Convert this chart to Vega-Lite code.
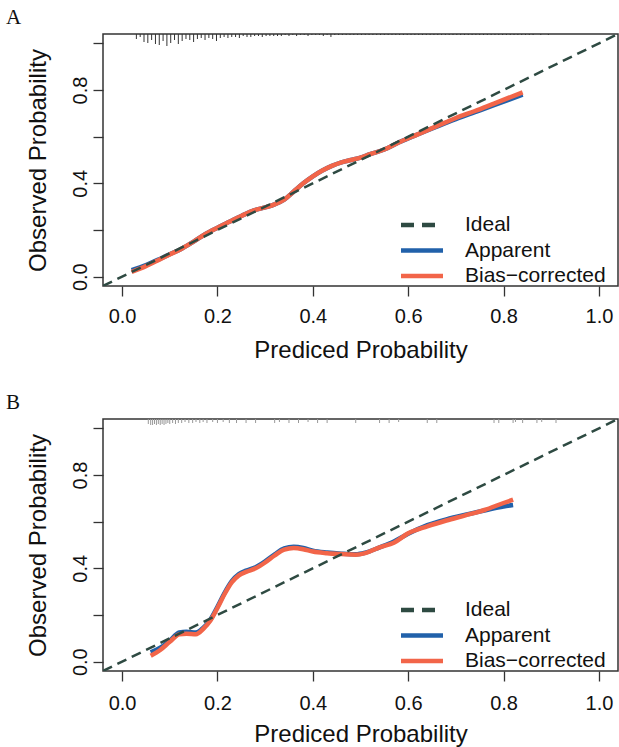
{
  "$schema": "https://vega.github.io/schema/vega-lite/v6.json",
  "padding": {"left": 5, "top": 5, "right": 0, "bottom": 0},
  "spacing": 27,
  "config": {
    "font": "Liberation Sans",
    "view": {"stroke": "#333", "strokeWidth": 1.5},
    "axis": {"grid": false, "domain": false, "tickColor": "#333", "tickWidth": 1.3, "tickSize": 10, "labelColor": "#111", "titleColor": "#111", "labelFont": "Liberation Sans", "titleFont": "Liberation Sans", "titleFontWeight": "normal", "labelFontSize": 20, "titleFontSize": 24},
    "title": {"font": "Liberation Serif", "fontSize": 21, "fontWeight": "normal", "color": "#111", "anchor": "start", "frame": "bounds"}
  },
  "datasets": {
    "ideal": [
      {"series": "Ideal", "p": -0.04, "obs": -0.04},
      {"series": "Ideal", "p": 1.04, "obs": 1.04}
    ],
    "curveA": [
      {"series": "Apparent", "p": 0.02, "obs": 0.028},
      {"series": "Apparent", "p": 0.05, "obs": 0.05},
      {"series": "Apparent", "p": 0.08, "obs": 0.077},
      {"series": "Apparent", "p": 0.10, "obs": 0.096},
      {"series": "Apparent", "p": 0.125, "obs": 0.12},
      {"series": "Apparent", "p": 0.15, "obs": 0.15},
      {"series": "Apparent", "p": 0.175, "obs": 0.183},
      {"series": "Apparent", "p": 0.20, "obs": 0.21},
      {"series": "Apparent", "p": 0.225, "obs": 0.235},
      {"series": "Apparent", "p": 0.25, "obs": 0.26},
      {"series": "Apparent", "p": 0.275, "obs": 0.283},
      {"series": "Apparent", "p": 0.30, "obs": 0.297},
      {"series": "Apparent", "p": 0.32, "obs": 0.31},
      {"series": "Apparent", "p": 0.34, "obs": 0.33},
      {"series": "Apparent", "p": 0.36, "obs": 0.365},
      {"series": "Apparent", "p": 0.38, "obs": 0.40},
      {"series": "Apparent", "p": 0.40, "obs": 0.43},
      {"series": "Apparent", "p": 0.42, "obs": 0.455},
      {"series": "Apparent", "p": 0.44, "obs": 0.475},
      {"series": "Apparent", "p": 0.46, "obs": 0.49},
      {"series": "Apparent", "p": 0.48, "obs": 0.50},
      {"series": "Apparent", "p": 0.50, "obs": 0.51},
      {"series": "Apparent", "p": 0.52, "obs": 0.525},
      {"series": "Apparent", "p": 0.55, "obs": 0.545},
      {"series": "Apparent", "p": 0.58, "obs": 0.575},
      {"series": "Apparent", "p": 0.62, "obs": 0.61},
      {"series": "Apparent", "p": 0.66, "obs": 0.643},
      {"series": "Apparent", "p": 0.70, "obs": 0.675},
      {"series": "Apparent", "p": 0.74, "obs": 0.705},
      {"series": "Apparent", "p": 0.78, "obs": 0.735},
      {"series": "Apparent", "p": 0.84, "obs": 0.78},
      {"series": "Bias−corrected", "p": 0.02, "obs": 0.02},
      {"series": "Bias−corrected", "p": 0.05, "obs": 0.045},
      {"series": "Bias−corrected", "p": 0.08, "obs": 0.075},
      {"series": "Bias−corrected", "p": 0.10, "obs": 0.095},
      {"series": "Bias−corrected", "p": 0.125, "obs": 0.12},
      {"series": "Bias−corrected", "p": 0.15, "obs": 0.15},
      {"series": "Bias−corrected", "p": 0.175, "obs": 0.183},
      {"series": "Bias−corrected", "p": 0.20, "obs": 0.21},
      {"series": "Bias−corrected", "p": 0.225, "obs": 0.235},
      {"series": "Bias−corrected", "p": 0.25, "obs": 0.26},
      {"series": "Bias−corrected", "p": 0.275, "obs": 0.283},
      {"series": "Bias−corrected", "p": 0.30, "obs": 0.297},
      {"series": "Bias−corrected", "p": 0.32, "obs": 0.31},
      {"series": "Bias−corrected", "p": 0.34, "obs": 0.33},
      {"series": "Bias−corrected", "p": 0.36, "obs": 0.365},
      {"series": "Bias−corrected", "p": 0.38, "obs": 0.40},
      {"series": "Bias−corrected", "p": 0.40, "obs": 0.43},
      {"series": "Bias−corrected", "p": 0.42, "obs": 0.455},
      {"series": "Bias−corrected", "p": 0.44, "obs": 0.475},
      {"series": "Bias−corrected", "p": 0.46, "obs": 0.49},
      {"series": "Bias−corrected", "p": 0.48, "obs": 0.50},
      {"series": "Bias−corrected", "p": 0.50, "obs": 0.51},
      {"series": "Bias−corrected", "p": 0.52, "obs": 0.525},
      {"series": "Bias−corrected", "p": 0.55, "obs": 0.545},
      {"series": "Bias−corrected", "p": 0.58, "obs": 0.575},
      {"series": "Bias−corrected", "p": 0.62, "obs": 0.61},
      {"series": "Bias−corrected", "p": 0.66, "obs": 0.645},
      {"series": "Bias−corrected", "p": 0.70, "obs": 0.68},
      {"series": "Bias−corrected", "p": 0.74, "obs": 0.71},
      {"series": "Bias−corrected", "p": 0.78, "obs": 0.742},
      {"series": "Bias−corrected", "p": 0.84, "obs": 0.79}
    ],
    "curveB": [
      {"series": "Apparent", "p": 0.06, "obs": 0.04},
      {"series": "Apparent", "p": 0.08, "obs": 0.06},
      {"series": "Apparent", "p": 0.10, "obs": 0.09},
      {"series": "Apparent", "p": 0.12, "obs": 0.125},
      {"series": "Apparent", "p": 0.135, "obs": 0.128},
      {"series": "Apparent", "p": 0.155, "obs": 0.125},
      {"series": "Apparent", "p": 0.17, "obs": 0.145},
      {"series": "Apparent", "p": 0.185, "obs": 0.18},
      {"series": "Apparent", "p": 0.20, "obs": 0.235},
      {"series": "Apparent", "p": 0.215, "obs": 0.295},
      {"series": "Apparent", "p": 0.23, "obs": 0.345},
      {"series": "Apparent", "p": 0.245, "obs": 0.375},
      {"series": "Apparent", "p": 0.26, "obs": 0.39},
      {"series": "Apparent", "p": 0.28, "obs": 0.405},
      {"series": "Apparent", "p": 0.30, "obs": 0.43},
      {"series": "Apparent", "p": 0.32, "obs": 0.46},
      {"series": "Apparent", "p": 0.34, "obs": 0.485},
      {"series": "Apparent", "p": 0.36, "obs": 0.492},
      {"series": "Apparent", "p": 0.38, "obs": 0.487},
      {"series": "Apparent", "p": 0.40, "obs": 0.476},
      {"series": "Apparent", "p": 0.43, "obs": 0.468},
      {"series": "Apparent", "p": 0.46, "obs": 0.463},
      {"series": "Apparent", "p": 0.49, "obs": 0.46},
      {"series": "Apparent", "p": 0.51, "obs": 0.467},
      {"series": "Apparent", "p": 0.54, "obs": 0.49},
      {"series": "Apparent", "p": 0.57, "obs": 0.515},
      {"series": "Apparent", "p": 0.60, "obs": 0.548},
      {"series": "Apparent", "p": 0.64, "obs": 0.585},
      {"series": "Apparent", "p": 0.68, "obs": 0.61},
      {"series": "Apparent", "p": 0.72, "obs": 0.63},
      {"series": "Apparent", "p": 0.76, "obs": 0.648},
      {"series": "Apparent", "p": 0.80, "obs": 0.665},
      {"series": "Apparent", "p": 0.82, "obs": 0.671},
      {"series": "Bias−corrected", "p": 0.06, "obs": 0.025},
      {"series": "Bias−corrected", "p": 0.08, "obs": 0.05},
      {"series": "Bias−corrected", "p": 0.10, "obs": 0.085},
      {"series": "Bias−corrected", "p": 0.12, "obs": 0.117},
      {"series": "Bias−corrected", "p": 0.135, "obs": 0.12},
      {"series": "Bias−corrected", "p": 0.155, "obs": 0.118},
      {"series": "Bias−corrected", "p": 0.17, "obs": 0.14},
      {"series": "Bias−corrected", "p": 0.185, "obs": 0.175},
      {"series": "Bias−corrected", "p": 0.20, "obs": 0.23},
      {"series": "Bias−corrected", "p": 0.215, "obs": 0.29},
      {"series": "Bias−corrected", "p": 0.23, "obs": 0.34},
      {"series": "Bias−corrected", "p": 0.245, "obs": 0.37},
      {"series": "Bias−corrected", "p": 0.26, "obs": 0.385},
      {"series": "Bias−corrected", "p": 0.28, "obs": 0.40},
      {"series": "Bias−corrected", "p": 0.30, "obs": 0.425},
      {"series": "Bias−corrected", "p": 0.32, "obs": 0.455},
      {"series": "Bias−corrected", "p": 0.34, "obs": 0.48},
      {"series": "Bias−corrected", "p": 0.36, "obs": 0.487},
      {"series": "Bias−corrected", "p": 0.38, "obs": 0.482},
      {"series": "Bias−corrected", "p": 0.40, "obs": 0.472},
      {"series": "Bias−corrected", "p": 0.43, "obs": 0.465},
      {"series": "Bias−corrected", "p": 0.46, "obs": 0.461},
      {"series": "Bias−corrected", "p": 0.49, "obs": 0.458},
      {"series": "Bias−corrected", "p": 0.51, "obs": 0.465},
      {"series": "Bias−corrected", "p": 0.54, "obs": 0.49},
      {"series": "Bias−corrected", "p": 0.57, "obs": 0.51},
      {"series": "Bias−corrected", "p": 0.60, "obs": 0.55},
      {"series": "Bias−corrected", "p": 0.64, "obs": 0.58},
      {"series": "Bias−corrected", "p": 0.68, "obs": 0.605},
      {"series": "Bias−corrected", "p": 0.72, "obs": 0.627},
      {"series": "Bias−corrected", "p": 0.76, "obs": 0.65},
      {"series": "Bias−corrected", "p": 0.80, "obs": 0.68},
      {"series": "Bias−corrected", "p": 0.82, "obs": 0.694}
    ],
    "spikeA": [
      {"p": 0.030, "n": 5}, {"p": 0.038, "n": 3}, {"p": 0.046, "n": 8}, {"p": 0.054, "n": 9}, {"p": 0.062, "n": 6},
      {"p": 0.070, "n": 10}, {"p": 0.078, "n": 11}, {"p": 0.086, "n": 7}, {"p": 0.094, "n": 12}, {"p": 0.102, "n": 9},
      {"p": 0.110, "n": 6}, {"p": 0.118, "n": 10}, {"p": 0.126, "n": 7}, {"p": 0.134, "n": 5}, {"p": 0.142, "n": 6},
      {"p": 0.150, "n": 8}, {"p": 0.158, "n": 5}, {"p": 0.166, "n": 4}, {"p": 0.174, "n": 6}, {"p": 0.182, "n": 4},
      {"p": 0.190, "n": 5}, {"p": 0.198, "n": 7}, {"p": 0.206, "n": 4}, {"p": 0.214, "n": 3}, {"p": 0.222, "n": 4},
      {"p": 0.230, "n": 3}, {"p": 0.238, "n": 3}, {"p": 0.246, "n": 4}, {"p": 0.254, "n": 2}, {"p": 0.262, "n": 3},
      {"p": 0.270, "n": 3}, {"p": 0.278, "n": 2}, {"p": 0.286, "n": 2}, {"p": 0.294, "n": 3}, {"p": 0.302, "n": 2},
      {"p": 0.310, "n": 2}, {"p": 0.318, "n": 2}, {"p": 0.326, "n": 2}, {"p": 0.334, "n": 2}, {"p": 0.342, "n": 1},
      {"p": 0.350, "n": 2}, {"p": 0.358, "n": 1}, {"p": 0.366, "n": 2}, {"p": 0.374, "n": 1}, {"p": 0.382, "n": 1},
      {"p": 0.390, "n": 2}, {"p": 0.398, "n": 1}, {"p": 0.406, "n": 1}, {"p": 0.414, "n": 1}, {"p": 0.422, "n": 2},
      {"p": 0.430, "n": 1}, {"p": 0.438, "n": 3}, {"p": 0.446, "n": 1}, {"p": 0.454, "n": 1}, {"p": 0.462, "n": 1},
      {"p": 0.470, "n": 1}, {"p": 0.478, "n": 1}, {"p": 0.486, "n": 1}, {"p": 0.494, "n": 1}, {"p": 0.502, "n": 1},
      {"p": 0.510, "n": 1}, {"p": 0.518, "n": 1}, {"p": 0.526, "n": 1}, {"p": 0.534, "n": 1}, {"p": 0.542, "n": 1},
      {"p": 0.550, "n": 1}, {"p": 0.558, "n": 1}, {"p": 0.566, "n": 1}, {"p": 0.574, "n": 1}, {"p": 0.582, "n": 1},
      {"p": 0.590, "n": 1}, {"p": 0.598, "n": 1}, {"p": 0.606, "n": 1}, {"p": 0.614, "n": 1}, {"p": 0.622, "n": 1},
      {"p": 0.630, "n": 1}, {"p": 0.638, "n": 1}, {"p": 0.646, "n": 1}, {"p": 0.654, "n": 1}, {"p": 0.662, "n": 1},
      {"p": 0.670, "n": 1}, {"p": 0.678, "n": 1}, {"p": 0.686, "n": 1}, {"p": 0.694, "n": 1}, {"p": 0.702, "n": 1},
      {"p": 0.710, "n": 1}, {"p": 0.718, "n": 1}, {"p": 0.726, "n": 1}, {"p": 0.734, "n": 1}, {"p": 0.742, "n": 1},
      {"p": 0.750, "n": 1}, {"p": 0.758, "n": 1}, {"p": 0.766, "n": 1}, {"p": 0.774, "n": 1}, {"p": 0.782, "n": 1},
      {"p": 0.790, "n": 1}, {"p": 0.798, "n": 1}, {"p": 0.806, "n": 1}, {"p": 0.814, "n": 1}, {"p": 0.822, "n": 1},
      {"p": 0.830, "n": 1}, {"p": 0.838, "n": 1}, {"p": 0.846, "n": 1}, {"p": 0.854, "n": 1}, {"p": 0.862, "n": 1},
      {"p": 0.878, "n": 1}, {"p": 0.894, "n": 1}
    ],
    "spikeB": [
      {"p": 0.055, "n": 5}, {"p": 0.060, "n": 6}, {"p": 0.064, "n": 6}, {"p": 0.068, "n": 5}, {"p": 0.072, "n": 6},
      {"p": 0.076, "n": 5}, {"p": 0.080, "n": 6}, {"p": 0.084, "n": 5}, {"p": 0.088, "n": 6}, {"p": 0.092, "n": 5},
      {"p": 0.096, "n": 4}, {"p": 0.100, "n": 5}, {"p": 0.106, "n": 4}, {"p": 0.112, "n": 5}, {"p": 0.118, "n": 4},
      {"p": 0.125, "n": 4}, {"p": 0.132, "n": 3}, {"p": 0.140, "n": 4}, {"p": 0.148, "n": 4}, {"p": 0.155, "n": 3},
      {"p": 0.163, "n": 4}, {"p": 0.170, "n": 3}, {"p": 0.178, "n": 4}, {"p": 0.190, "n": 3}, {"p": 0.200, "n": 4},
      {"p": 0.212, "n": 3}, {"p": 0.225, "n": 4}, {"p": 0.240, "n": 4}, {"p": 0.260, "n": 4}, {"p": 0.280, "n": 4},
      {"p": 0.320, "n": 4}, {"p": 0.330, "n": 3}, {"p": 0.350, "n": 4}, {"p": 0.370, "n": 4}, {"p": 0.390, "n": 3},
      {"p": 0.410, "n": 4}, {"p": 0.430, "n": 4}, {"p": 0.490, "n": 4}, {"p": 0.540, "n": 4}, {"p": 0.560, "n": 4},
      {"p": 0.580, "n": 3}, {"p": 0.640, "n": 4}, {"p": 0.660, "n": 4}, {"p": 0.780, "n": 4}, {"p": 0.790, "n": 4},
      {"p": 0.820, "n": 4}, {"p": 0.825, "n": 3}, {"p": 0.840, "n": 4}, {"p": 0.870, "n": 4}, {"p": 0.880, "n": 3},
      {"p": 0.910, "n": 4}
    ]
  },
  "resolve": {
    "scale": {"color": "independent"},
    "legend": {"color": "independent"}
  },
  "vconcat": [
    {
      "title": {"text": "A", "dx": -20, "offset": 6},
      "width": 515,
      "height": 252,
      "layer": [
        {
          "data": {"name": "spikeA"},
          "mark": {"type": "rule", "color": "#333", "strokeWidth": 1},
          "encoding": {
            "x": {"field": "p", "type": "quantitative", "scale": {"domain": [-0.04, 1.04], "nice": false, "zero": false},
              "axis": {"values": [0, 0.2, 0.4, 0.6, 0.8, 1.0], "format": ".1f", "title": "Prediced Probability", "labelPadding": 10, "titlePadding": 12, "labelFlush": false}},
            "y": {"field": "n", "type": "quantitative", "scale": {"domain": [0, 14], "range": [0, 14]}, "axis": null},
            "y2": {"datum": 0}
          }
        },
        {
          "layer": [
            {
              "data": {"name": "curveA"},
              "mark": {"type": "line", "strokeWidth": 4.5, "interpolate": "monotone"},
              "encoding": {
                "x": {"field": "p", "type": "quantitative", "scale": {"domain": [-0.04, 1.04], "nice": false, "zero": false},
                  "axis": {"values": [0, 0.2, 0.4, 0.6, 0.8, 1.0], "format": ".1f", "title": "Prediced Probability", "labelPadding": 10, "titlePadding": 12, "labelFlush": false}},
                "y": {"field": "obs", "type": "quantitative", "scale": {"domain": [-0.04, 1.04], "nice": false, "zero": false},
                  "axis": {"values": [0, 0.2, 0.4, 0.6, 0.8, 1.0], "labelExpr": "indexof([0, 0.4, 0.8], datum.value) >= 0 ? format(datum.value, '.1f') : ''", "labelAngle": -90, "labelOverlap": false, "labelFlush": false, "labelPadding": 3, "title": "Observed Probability", "titlePadding": 20}},
                "color": {"field": "series", "type": "nominal",
                  "scale": {"domain": ["Ideal", "Apparent", "Bias−corrected"], "range": ["#2E4A42", "#2161AA", "#F26549"]},
                  "legend": {"title": null, "orient": "none", "legendX": 306, "legendY": 178, "symbolType": "M-2,0H2", "symbolSize": 441, "symbolStrokeWidth": 4.5, "labelFontSize": 21, "labelFont": "Liberation Sans", "labelColor": "#111", "labelOffset": 30, "rowPadding": 2.5, "padding": 0,
                    "encode": {"symbols": {"update": {"strokeDash": {"signal": "datum.value === 'Ideal' ? [13, 8] : [100, 1]"}, "size": {"value": 441}, "shape": {"value": "M-2,0H2"}, "strokeWidth": {"value": 4.5}}}}}}
              }
            },
            {
              "data": {"name": "ideal"},
              "mark": {"type": "line", "strokeWidth": 2.5, "strokeDash": [10, 6], "clip": true},
              "encoding": {
                "x": {"field": "p", "type": "quantitative"},
                "y": {"field": "obs", "type": "quantitative"},
                "color": {"field": "series", "type": "nominal"}
              }
            }
          ]
        }
      ],
      "resolve": {"scale": {"y": "independent"}}
    },
    {
      "title": {"text": "B", "dx": -20, "offset": 6},
      "width": 515,
      "height": 252,
      "layer": [
        {
          "data": {"name": "spikeB"},
          "mark": {"type": "rule", "color": "#999", "strokeWidth": 1},
          "encoding": {
            "x": {"field": "p", "type": "quantitative", "scale": {"domain": [-0.04, 1.04], "nice": false, "zero": false},
              "axis": {"values": [0, 0.2, 0.4, 0.6, 0.8, 1.0], "format": ".1f", "title": "Prediced Probability", "labelPadding": 12, "titlePadding": 9, "labelFlush": false}},
            "y": {"field": "n", "type": "quantitative", "scale": {"domain": [0, 14], "range": [0, 14]}, "axis": null},
            "y2": {"datum": 0}
          }
        },
        {
          "layer": [
            {
              "data": {"name": "curveB"},
              "mark": {"type": "line", "strokeWidth": 4.5, "interpolate": "monotone"},
              "encoding": {
                "x": {"field": "p", "type": "quantitative", "scale": {"domain": [-0.04, 1.04], "nice": false, "zero": false},
                  "axis": {"values": [0, 0.2, 0.4, 0.6, 0.8, 1.0], "format": ".1f", "title": "Prediced Probability", "labelPadding": 12, "titlePadding": 9, "labelFlush": false}},
                "y": {"field": "obs", "type": "quantitative", "scale": {"domain": [-0.04, 1.04], "nice": false, "zero": false},
                  "axis": {"values": [0, 0.2, 0.4, 0.6, 0.8, 1.0], "labelExpr": "indexof([0, 0.4, 0.8], datum.value) >= 0 ? format(datum.value, '.1f') : ''", "labelAngle": -90, "labelOverlap": false, "labelFlush": false, "labelPadding": 3, "title": "Observed Probability", "titlePadding": 20}},
                "color": {"field": "series", "type": "nominal",
                  "scale": {"domain": ["Ideal", "Apparent", "Bias−corrected"], "range": ["#2E4A42", "#2161AA", "#F26549"]},
                  "legend": {"title": null, "orient": "none", "legendX": 306, "legendY": 178, "symbolType": "M-2,0H2", "symbolSize": 441, "symbolStrokeWidth": 4.5, "labelFontSize": 21, "labelFont": "Liberation Sans", "labelColor": "#111", "labelOffset": 30, "rowPadding": 2.5, "padding": 0,
                    "encode": {"symbols": {"update": {"strokeDash": {"signal": "datum.value === 'Ideal' ? [13, 8] : [100, 1]"}, "size": {"value": 441}, "shape": {"value": "M-2,0H2"}, "strokeWidth": {"value": 4.5}}}}}}
              }
            },
            {
              "data": {"name": "ideal"},
              "mark": {"type": "line", "strokeWidth": 2.5, "strokeDash": [10, 6], "clip": true},
              "encoding": {
                "x": {"field": "p", "type": "quantitative"},
                "y": {"field": "obs", "type": "quantitative"},
                "color": {"field": "series", "type": "nominal"}
              }
            }
          ]
        }
      ],
      "resolve": {"scale": {"y": "independent"}}
    }
  ]
}
